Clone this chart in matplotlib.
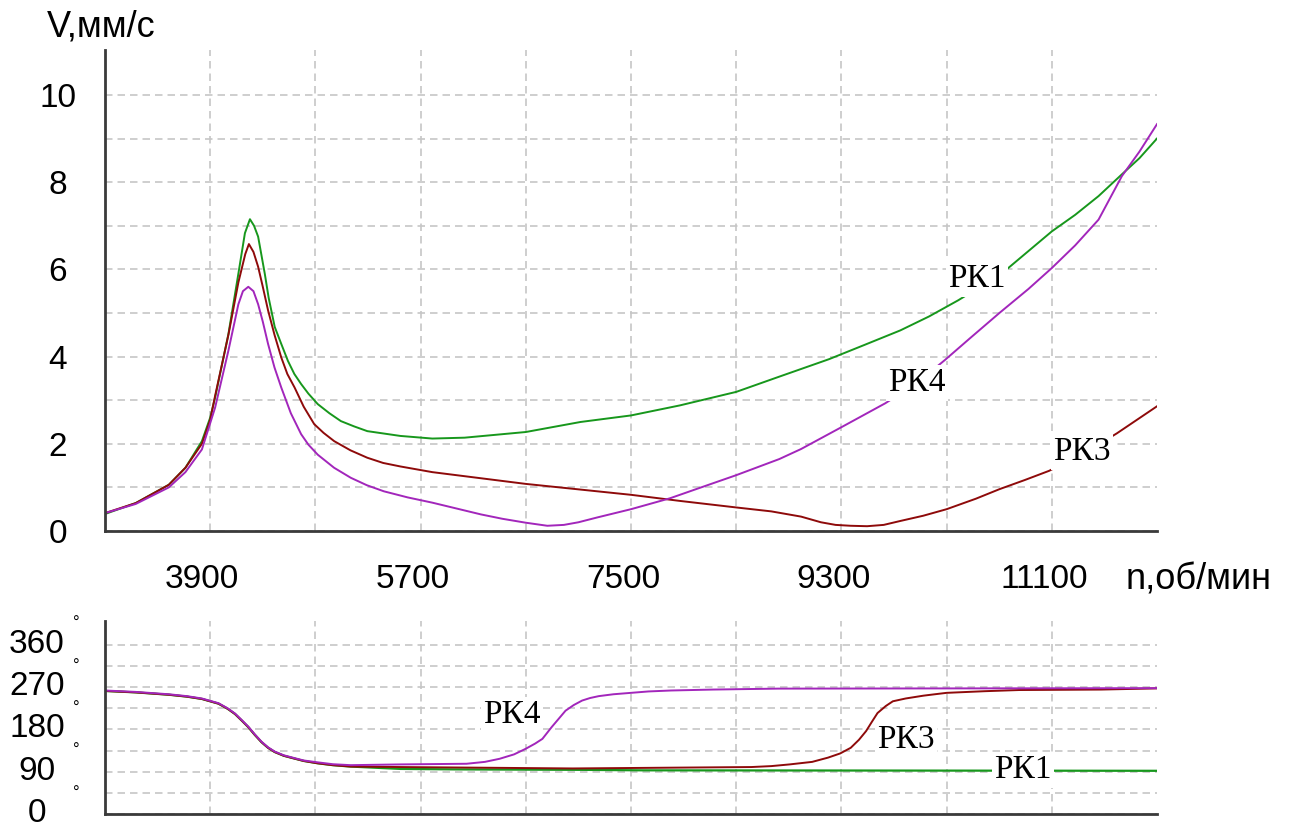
import matplotlib.pyplot as plt
import matplotlib.transforms as mtransforms

# виброскорость V, мм/с по оборотам n, об/мин
rpm_pk1 = [3000, 3263, 3546, 3688, 3829, 3900, 3942, 4056, 4141, 4197, 4240, 4275, 4310,
           4367, 4400, 4452, 4508, 4565, 4620, 4678, 4740, 4820, 4920, 5018, 5130, 5244,
           5527, 5800, 6076, 6600, 7068, 7500, 7918, 8400, 8769, 9194, 9500, 9804, 10050,
           10299, 10500, 10723, 11100, 11300, 11500, 11700, 11850, 12000]
v_pk1 = [0.39, 0.64, 1.06, 1.45, 2.06, 2.6, 3.06, 4.52, 5.9, 6.83, 7.15, 7.0, 6.75,
         5.9, 5.35, 4.68, 4.29, 3.9, 3.6, 3.37, 3.15, 2.91, 2.7, 2.52, 2.4, 2.29,
         2.18, 2.12, 2.14, 2.27, 2.5, 2.65, 2.88, 3.19, 3.54, 3.94, 4.27, 4.6, 4.92,
         5.29, 5.62, 6.02, 6.87, 7.25, 7.68, 8.18, 8.55, 9.0]

rpm_pk3 = [3000, 3263, 3546, 3688, 3829, 3900, 3942, 4056, 4141, 4200, 4231, 4270, 4310,
           4350, 4395, 4450, 4508, 4560, 4622, 4700, 4790, 4870, 4961, 5100, 5244, 5380,
           5527, 5800, 6600, 7500, 7918, 8400, 8700, 8955, 9125, 9250, 9379, 9520, 9662,
           9804, 10000, 10200, 10450, 10653, 10870, 11077, 11400, 11657, 12000]
v_pk3 = [0.41, 0.64, 1.06, 1.45, 2.0, 2.55, 3.1, 4.5, 5.7, 6.35, 6.58, 6.4, 6.06,
         5.6, 5.06, 4.5, 3.98, 3.6, 3.29, 2.85, 2.45, 2.25, 2.06, 1.85, 1.68, 1.56,
         1.48, 1.35, 1.08, 0.83, 0.69, 0.54, 0.45, 0.33, 0.2, 0.14, 0.12, 0.11, 0.14,
         0.23, 0.35, 0.5, 0.74, 0.96, 1.17, 1.38, 1.82, 2.24, 2.86]

rpm_pk4 = [3000, 3263, 3546, 3688, 3829, 3942, 4056, 4141, 4180, 4226, 4270, 4310, 4350,
           4395, 4450, 4508, 4590, 4678, 4740, 4820, 4960, 5103, 5240, 5386, 5590, 5800,
           6217, 6400, 6600, 6784, 6926, 7050, 7210, 7500, 7833, 8100, 8400, 8769, 8955,
           9300, 9676, 9950, 10185, 10400, 10652, 10900, 11100, 11300, 11500, 11700,
           11850, 12000]
v_pk4 = [0.41, 0.62, 1.0, 1.35, 1.87, 2.83, 4.14, 5.2, 5.5, 5.6, 5.5, 5.2, 4.8,
         4.29, 3.75, 3.29, 2.7, 2.22, 1.98, 1.75, 1.45, 1.22, 1.05, 0.91, 0.77, 0.65,
         0.38, 0.28, 0.19, 0.12, 0.14, 0.2, 0.31, 0.5, 0.75, 1.0, 1.28, 1.65, 1.88,
         2.38, 2.93, 3.4, 3.92, 4.42, 5.0, 5.55, 6.03, 6.55, 7.14, 8.14, 8.7, 9.33]

# фаза, градусы
ph_rpm_pk1 = [3000, 3263, 3546, 3700, 3829, 3971, 4050, 4112, 4170, 4226, 4280, 4339,
              4395, 4452, 4530, 4622, 4700, 4820, 4950, 5103, 5527, 6000, 7082, 7600, 12000]
ph_pk1 = [262, 259, 254, 250, 245, 235, 224, 213, 199, 185, 169, 153,
          141, 132, 124, 118, 113, 108, 104, 101, 96, 95, 94, 93, 92]

ph_rpm_pk3 = [3000, 3263, 3546, 3700, 3829, 3971, 4050, 4112, 4170, 4226, 4280, 4339,
              4395, 4452, 4530, 4622, 4700, 4820, 4950, 5103, 5527, 7000, 8530, 8700,
              8857, 9050, 9185, 9290, 9380, 9450, 9511, 9560, 9609, 9680, 9740, 9850,
              10002, 10100, 10200, 10525, 10820, 11522, 12000]
ph_pk3 = [262, 259, 254, 250, 245, 235, 224, 213, 199, 185, 169, 153,
          141, 132, 124, 118, 113, 108, 104, 101, 100, 97, 100, 102,
          105.6, 111, 120, 129, 141, 158, 176.5, 196, 215, 230, 240, 246,
          252, 255, 258, 261.5, 264, 265, 267.5]

ph_rpm_pk4 = [3000, 3263, 3546, 3700, 3829, 3971, 4050, 4112, 4170, 4226, 4280, 4339,
              4395, 4452, 4530, 4622, 4700, 4820, 4950, 5103, 5527, 6093, 6250, 6376,
              6500, 6600, 6680, 6742, 6821, 6940, 7010, 7082, 7150, 7224, 7350, 7500,
              7650, 7843, 8200, 8759, 12000]
ph_pk4 = [263, 260, 255, 251, 246, 236, 225, 214, 200, 186, 170, 154,
          142, 133, 125, 119, 114, 110, 106, 104, 105.6, 107, 111, 117.6,
          127, 139, 150, 160, 185, 220, 232, 241.6, 247, 251, 255, 258,
          261, 263, 265, 267, 268]

x_ticks = [3900, 5700, 7500, 9300, 11100]
x_minor = [4800, 6600, 8400, 10200]
v_ticks = [0, 2, 4, 6, 8, 10]
v_minor = [1, 3, 5, 7, 9]
ph_ticks = [0, 90, 180, 270, 360]
ph_minor = [45, 135, 225, 315]

c_pk1 = '#17971c'
c_pk3 = '#8e0a0a'
c_pk4 = '#a226bb'

plt.rcParams['font.family'] = ['Liberation Sans', 'DejaVu Sans']

W, H = 1293, 827
fig = plt.figure(figsize=(W / 100, H / 100), dpi=100)
ax1 = fig.add_axes([105 / W, 1 - 531 / H, 1052 / W, 481 / H])
ax2 = fig.add_axes([105 / W, 1 - 814 / H, 1052 / W, 193 / H])


def style_axes(ax):
    for side in ('top', 'right'):
        ax.spines[side].set_visible(False)
    for side in ('left', 'bottom'):
        ax.spines[side].set_color('#3a3a3a')
        ax.spines[side].set_linewidth(2)
    ax.set_xlim(3000, 12000)
    ax.set_xticks(x_ticks)
    ax.set_xticks(x_minor, minor=True)
    ax.grid(which='both', color='#c6c6c6', linestyle=(0, (4.5, 3)), linewidth=1.2)
    ax.set_axisbelow(True)
    ax.tick_params(which='both', length=0, labelsize=24)


def curve_label(ax, x, y, text):
    ax.text(x, y, text, fontfamily='Liberation Serif', fontsize=24,
            ha='center', va='center',
            bbox=dict(facecolor='white', edgecolor='none', pad=2))


# --- верхний график: амплитуда ---
style_axes(ax1)
ax1.plot(rpm_pk1, v_pk1, color=c_pk1, lw=1.4)
ax1.plot(rpm_pk3, v_pk3, color=c_pk3, lw=1.4)
ax1.plot(rpm_pk4, v_pk4, color=c_pk4, lw=1.4)
ax1.set_ylim(0, 11.03)
ax1.set_yticks(v_ticks)
ax1.set_yticks(v_minor, minor=True)
ax1.tick_params(axis='y', pad=34)
ax1.tick_params(axis='x', pad=24)
for lbl in ax1.get_yticklabels():
    lbl.set_horizontalalignment('center')
shift = mtransforms.ScaledTranslation(-8 / 100, 0, fig.dpi_scale_trans)
for lbl in ax1.get_xticklabels():
    lbl.set_transform(lbl.get_transform() + shift)

curve_label(ax1, 10460, 5.78, 'РК1')
curve_label(ax1, 9947, 3.39, 'РК4')
curve_label(ax1, 11358, 1.81, 'РК3')

fig.text(47 / W, 1 - 27 / H, 'V,мм/с', fontsize=26, ha='left', va='center')
fig.text(1126 / W, 1 - 580 / H, 'n,об/мин', fontsize=26, ha='left', va='center')

# --- нижний график: фаза ---
style_axes(ax2)
ax2.plot(ph_rpm_pk1, ph_pk1, color=c_pk1, lw=1.6)
ax2.plot(ph_rpm_pk3, ph_pk3, color=c_pk3, lw=1.4)
ax2.plot(ph_rpm_pk4, ph_pk4, color=c_pk4, lw=1.4)
ax2.set_ylim(0, 411)
ax2.set_yticks(ph_ticks)
ax2.set_yticks(ph_minor, minor=True)
ax2.tick_params(axis='y', pad=49)
ax2.tick_params(axis='x', labelbottom=False)
lift = mtransforms.ScaledTranslation(0, 4 / 100, fig.dpi_scale_trans)
for lbl in ax2.get_yticklabels():
    lbl.set_horizontalalignment('center')
    lbl.set_transform(lbl.get_transform() + lift)

deg_tr = mtransforms.blended_transform_factory(ax2.transAxes, ax2.transData)
for v in ph_ticks:
    ax2.text(-0.0276, v + 45, '°', transform=deg_tr, ha='center', va='center',
             fontsize=12, clip_on=False)

curve_label(ax2, 6482, 211, 'РК4')
curve_label(ax2, 9853, 158, 'РК3')
curve_label(ax2, 10853, 94, 'РК1')

fig.savefig('out.png', dpi=100)
